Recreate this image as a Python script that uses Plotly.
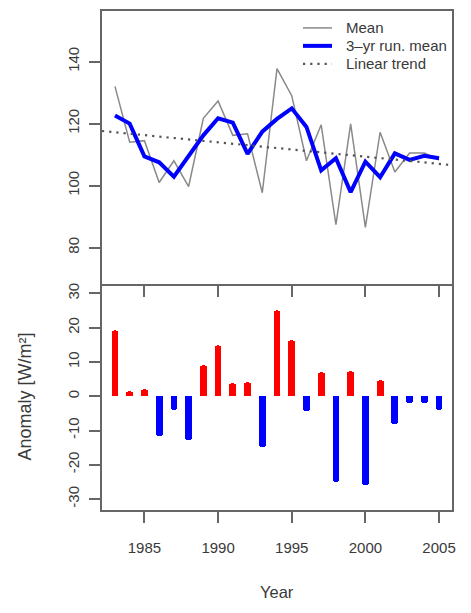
import plotly.graph_objects as go

# ---------------- data ----------------
years = list(range(1983, 2006))
mean_vals = [132.0, 114.0, 114.5, 101.0, 108.0, 99.7, 121.7, 127.3, 116.2, 116.7,
             97.7, 137.7, 129.0, 108.0, 119.6, 87.4, 119.9, 86.5, 117.2, 104.4,
             110.5, 110.5, 108.3]
runmean_vals = [122.6, 120.0, 109.4, 107.5, 102.9, 109.8, 116.2, 121.7, 120.3, 110.2,
                117.4, 121.5, 124.9, 118.9, 104.9, 108.8, 97.9, 107.7, 102.7, 110.4,
                108.3, 109.6, 108.8]
trend_years = [1982.12, 2005.88]
trend_vals = [117.6, 106.6]
anomaly_vals = [19.4, 1.5, 2.0, -11.6, -4.2, -12.8, 9.2, 14.8, 3.8, 4.2,
                -14.8, 25.2, 16.5, -4.4, 7.1, -25.1, 7.4, -26.0, 4.7, -8.1,
                -2.0, -2.0, -4.2]
x_ticks = [1985, 1990, 1995, 2000, 2005]
top_y_ticks = [80, 100, 120, 140]
bot_y_ticks = [-30, -20, -10, 0, 10, 20, 30]
bot_y_ticktext = ["-30", "-20", "-10", "0", "10", "20", "30"]
legend_labels = ["Mean", "3\u2013yr run. mean", "Linear trend"]

# ---------------- styling ----------------
FONT = "Liberation Sans, Arial, Helvetica, sans-serif"
AX = "#666666"
TXT = "#3a3a3a"
W, H = 471, 613
ML, MR, MT, MB = 102, 19, 9, 103
PW = W - ML - MR
PH = H - MT - MB
split = (510 - 283.3) / PH  # paper y where panels meet

fig = go.Figure()

fig.add_trace(go.Scatter(x=years, y=mean_vals, mode="lines",
                         line=dict(color="#8a8a8a", width=1.5),
                         xaxis="x", yaxis="y", showlegend=False))
fig.add_trace(go.Scatter(x=years, y=runmean_vals, mode="lines",
                         line=dict(color="#0000ff", width=4),
                         xaxis="x", yaxis="y", showlegend=False))
fig.add_trace(go.Scatter(x=trend_years, y=trend_vals, mode="lines",
                         line=dict(color="#555555", width=2.2, dash="2.2px,5px"),
                         xaxis="x", yaxis="y", showlegend=False))

bar_colors = ["#ff0000" if v >= 0 else "#0000ff" for v in anomaly_vals]
fig.add_trace(go.Bar(x=years, y=anomaly_vals, width=0.46,
                     marker=dict(color=bar_colors, line=dict(width=0), cornerradius="50%"),
                     xaxis="x2", yaxis="y2", showlegend=False))

common_axis = dict(showline=True, linecolor=AX, linewidth=1.5,
                   ticks="outside", ticklen=11, tickwidth=1.5, tickcolor=AX,
                   showgrid=False, zeroline=False,
                   tickfont=dict(family=FONT, size=15, color=TXT))

xr = [1982.12, 2005.88]
fig.update_layout(
    width=W, height=H,
    margin=dict(l=ML, r=MR, t=MT, b=MB),
    paper_bgcolor="white", plot_bgcolor="white",
    font=dict(family=FONT, color=TXT),
    bargap=0,
    xaxis=dict(domain=[0, 1], range=xr, anchor="y", tickvals=x_ticks, mirror=True,
               showticklabels=False, **common_axis),
    yaxis=dict(domain=[split, 1], range=[68.2, 156.3], anchor="x", mirror=True,
               tickvals=top_y_ticks, tickangle=-90, ticklabelstandoff=4, **common_axis),
    xaxis2=dict(domain=[0, 1], range=xr, anchor="y2", tickvals=x_ticks, mirror=False,
                ticklabelstandoff=12, **common_axis),
    yaxis2=dict(domain=[0, split], range=[-33.2, 32.7], anchor="x2", mirror=True,
                tickvals=bot_y_ticks, ticktext=bot_y_ticktext, tickangle=-90,
                ticklabelstandoff=4, **common_axis),
)

def px_x(px):
    return (px - ML) / PW

def px_y(py):
    return (H - MB - py) / PH

# axis titles
fig.add_annotation(text="Year", xref="paper", yref="paper", x=0.5, y=px_y(592),
                   xanchor="center", yanchor="middle", showarrow=False,
                   font=dict(family=FONT, size=16.5, color=TXT))
fig.add_annotation(text="Anomaly [W/m\u00b2]", xref="paper", yref="paper",
                   x=px_x(25), y=px_y(396), textangle=-90,
                   xanchor="center", yanchor="middle", showarrow=False,
                   font=dict(family=FONT, size=18, color=TXT))

# legend (top-right inside the upper panel, no box)
legend_rows = [26, 44, 62]
legend_styles = [dict(color="#8a8a8a", width=1.5),
                 dict(color="#0000ff", width=4),
                 dict(color="#555555", width=2.2, dash="2.2px,5px")]
for label, row, st in zip(legend_labels, legend_rows, legend_styles):
    fig.add_shape(type="line", xref="paper", yref="paper",
                  x0=px_x(303), x1=px_x(332), y0=px_y(row), y1=px_y(row), line=st)
    fig.add_annotation(text=label, xref="paper", yref="paper", x=px_x(344), y=px_y(row),
                       xanchor="left", yanchor="middle", showarrow=False,
                       font=dict(family=FONT, size=15, color=TXT))

fig.write_html("out.html", config={"displayModeBar": False},
               post_script="document.body.style.margin='0';document.body.style.overflow='hidden';")
